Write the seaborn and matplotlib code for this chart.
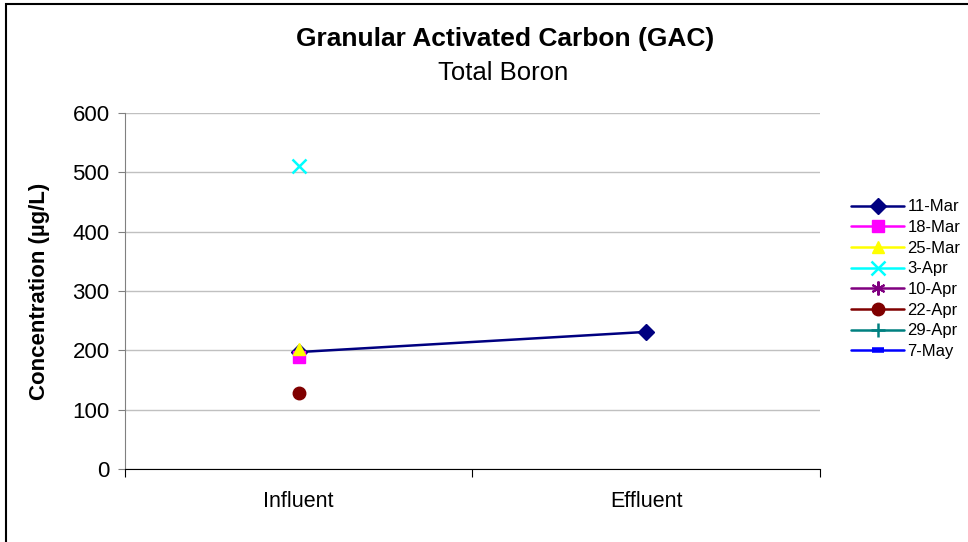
import numpy as np
import pandas as pd
import seaborn as sns
import matplotlib
import matplotlib.pyplot as plt
from matplotlib.lines import Line2D
from matplotlib.patches import Rectangle

# data (NaN = no sample)
locations = ["Influent", "Effluent"]
dates = ["11-Mar", "18-Mar", "25-Mar", "3-Apr", "10-Apr", "22-Apr", "29-Apr", "7-May"]
mar11 = [197, 231]
mar18 = [188, np.nan]
mar25 = [203, np.nan]
apr03 = [510, np.nan]
apr10 = [np.nan, np.nan]
apr22 = [128, np.nan]
apr29 = [np.nan, np.nan]
may07 = [np.nan, np.nan]
yticks = [0, 100, 200, 300, 400, 500, 600]

series = [mar11, mar18, mar25, apr03, apr10, apr22, apr29, may07]
colors = ["#000080", "#FF00FF", "#FFFF00", "#00FFFF", "#800080", "#800000", "#008080", "#0000FF"]
markers = ["D", "s", "^", "x", (6, 2, 0), "o", "+", "_"]
msizes = [8, 8, 9, 10, 10, 9, 10, 8]
mews = [1, 1, 1, 1.8, 1.5, 1, 1.8, 4]

sns.set_style("white")
plt.rcParams["font.family"] = ["Liberation Sans", "DejaVu Sans"]
plt.rcParams["text.color"] = "black"
plt.rcParams["axes.labelcolor"] = "black"
plt.rcParams["xtick.color"] = "black"
plt.rcParams["ytick.color"] = "black"

fig = plt.figure(figsize=(9.68, 5.42), dpi=100)
ax = fig.add_axes([0.129, 0.1347, 0.718, 0.657])

xpos = np.arange(len(locations))
for vals, c, m, ms, mw in zip(series, colors, markers, msizes, mews):
    v = np.array(vals, dtype=float)
    if np.all(np.isnan(v)):
        continue
    df = pd.DataFrame({"x": xpos, "y": v})
    sns.lineplot(data=df, x="x", y="y", ax=ax, color=c, lw=1.8, marker=m,
                 markersize=ms, markeredgewidth=mw, markeredgecolor=c, zorder=3)

ax.set_xlim(-0.5, 1.5)
ax.set_ylim(0, 600)
ax.set_yticks(yticks)
ax.set_yticklabels([str(t) for t in yticks], fontsize=16)
ax.set_xticks([-0.5, 0.5, 1.5])
ax.set_xticklabels([])
ax.set_xticks(xpos, minor=True)
ax.set_xticklabels(locations, minor=True, fontsize=15.5)
ax.tick_params(axis="x", which="major", direction="out", length=6, color="black", bottom=True)
ax.tick_params(axis="x", which="minor", length=0, pad=16)
ax.tick_params(axis="y", direction="out", length=5, color="#808080", left=True, pad=6)
ax.yaxis.grid(True, color="#c0c0c0", lw=1)
ax.set_axisbelow(True)
for s in ["top", "right"]:
    ax.spines[s].set_visible(False)
ax.spines["left"].set_color("#808080")
ax.spines["bottom"].set_color("black")
ax.set_xlabel("")
ax.set_ylabel("Concentration (\u00b5g/L)", fontsize=16, fontweight="bold", labelpad=16)

fig.text(0.522, 0.915, "Granular Activated Carbon (GAC)", ha="center", fontsize=19, fontweight="bold")
fig.text(0.520, 0.853, "Total Boron", ha="center", fontsize=18.5)

handles = [Line2D([], [], color=c, lw=1.8, marker=m, markersize=ms, markeredgewidth=mw,
                  markeredgecolor=c, markerfacecolor=c)
           for c, m, ms, mw in zip(colors, markers, msizes, mews)]
fig.legend(handles, dates, loc="upper left", bbox_to_anchor=(0.879, 0.632), frameon=False,
           fontsize=12, handlelength=3.2, handletextpad=0.2, labelspacing=0.34,
           borderaxespad=0, borderpad=0)

fig.patches.append(Rectangle((6 / 968, -0.1), 2, 1.1 - 4 / 542, transform=fig.transFigure,
                             fill=False, edgecolor="black", lw=1.5))

fig.savefig("out.png", dpi=100)
